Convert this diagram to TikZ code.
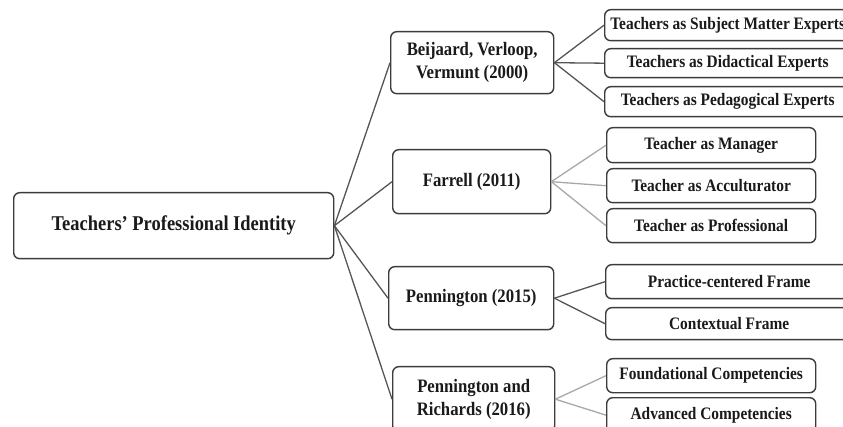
\documentclass[tikz,border=0pt]{standalone}
\usepackage{fontspec}
\setmainfont{Liberation Serif}[FakeStretch=0.88]
\definecolor{boxline}{HTML}{3C3C3C}
\definecolor{darkcon}{HTML}{555555}
\definecolor{lightcon}{HTML}{A8A8A8}
\definecolor{txt}{HTML}{1A1A1A}
\tikzset{
  box/.style={draw=boxline, line width=1.4pt, rounded corners=6pt, fill=white,
    inner sep=0pt, anchor=north west, align=center, text=txt, font=\bfseries},
  rootbox/.style={box, font=\fontsize{21}{24}\selectfont\bfseries},
  parbox/.style={box, font=\fontsize{19}{22.7}\selectfont\bfseries},
  kidbox/.style={box, font=\fontsize{17.5}{20}\selectfont\bfseries},
  darkline/.style={draw=darkcon, line width=1.3pt},
  lightline/.style={draw=lightcon, line width=1.3pt},
}
\newcommand{\bx}[7]{\node[#1, minimum width=#4pt-#2pt, minimum height=#5pt-#3pt] (#6) at (#2,#3) {#7};}
\begin{document}
\begin{tikzpicture}[x=1pt,y=-1pt]
\useasboundingbox (0,0) rectangle (843,427);
\clip (0,0) rectangle (843,427);
\fill[white] (0,0) rectangle (843,427);
% root
\bx{rootbox}{13}{192}{333}{258}{root}{Teachers’ Professional Identity}
% parents
\bx{parbox}{390}{31}{553}{93}{b}{Beijaard, Verloop,\\Vermunt (2000)}
\bx{parbox}{392}{149}{550}{213}{f}{Farrell (2011)}
\bx{parbox}{388}{266}{553}{329}{p}{Pennington (2015)}
\bx{parbox}{392}{366}{554}{431}{r}{Pennington and\\Richards (2016)}
% children
\bx{kidbox}{604}{9}{850}{40}{b1}{Teachers as Subject Matter Experts}
\bx{kidbox}{604}{48}{850}{77}{b2}{Teachers as Didactical Experts}
\bx{kidbox}{604}{86}{850}{116}{b3}{Teachers as Pedagogical Experts}
\bx{kidbox}{606}{127}{815}{162}{f1}{Teacher as Manager}
\bx{kidbox}{606}{168}{815}{202}{f2}{Teacher as Acculturator}
\bx{kidbox}{606}{208}{815}{242}{f3}{Teacher as Professional}
\bx{kidbox}{605}{264}{852}{298}{p1}{Practice-centered Frame}
\bx{kidbox}{605}{307}{852}{339}{p2}{Contextual Frame}
\bx{kidbox}{606}{358}{815}{392}{r1}{Foundational Competencies}
\bx{kidbox}{606}{397}{815}{432}{r2}{Advanced Competencies}
% connectors
\draw[darkline] (root.east) -- (b.west);
\draw[darkline] (root.east) -- (f.west);
\draw[darkline] (root.east) -- (p.west);
\draw[darkline] (root.east) -- (r.west);
\draw[darkline] (b.east) -- (b1.west);
\draw[darkline] (b.east) -- (b2.west);
\draw[darkline] (b.east) -- (b3.west);
\draw[lightline] (f.east) -- (f1.west);
\draw[lightline] (f.east) -- (f2.west);
\draw[lightline] (f.east) -- (f3.west);
\draw[darkline] (p.east) -- (p1.west);
\draw[darkline] (p.east) -- (p2.west);
\draw[lightline] (r.east) -- (r1.west);
\draw[lightline] (r.east) -- (r2.west);
\end{tikzpicture}
\end{document}
